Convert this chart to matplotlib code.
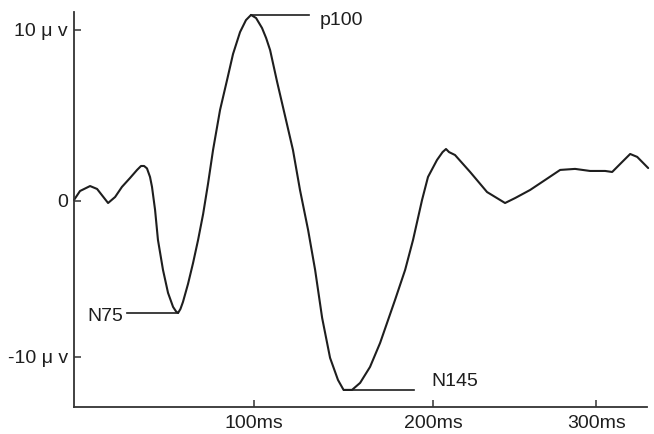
"""
Visual evoked potential waveform with N75 / p100 / N145 components marked.
"""
import matplotlib
matplotlib.use("Agg")
import matplotlib.pyplot as plt
import numpy as np

plt.rcParams["font.family"] = ["Liberation Sans", "DejaVu Sans"]

# waveform traced from the recording (ms, microvolts)
time_ms = [0.3, 3.6, 9.2, 13.1, 19.2, 23.1, 26.9, 31.4, 35.3, 37.5, 39.2, 40.8, 42.5,
           43.6, 45.3, 46.9, 49.7, 52.5, 55.3, 57.0, 58.1, 59.4, 60.8, 63.6, 66.4, 69.2,
           72.0, 74.7, 77.5, 81.4, 85.3, 88.6, 92.5, 95.8, 98.6, 101.4, 104.7,
           107.0, 109.2, 113.1, 117.5, 121.9, 125.8, 130.3, 134.2, 138.1, 142.5, 146.9,
           150.0, 154.7, 159.2, 164.7, 170.3, 178.6, 184.2, 188.6, 193.6, 196.9,
           201.9, 205.0, 206.9, 208.6, 211.9, 220.3, 229.7, 236.9, 239.7, 245.3, 253.6,
           261.9, 270.3, 278.6, 286.9, 295.3, 299.2, 304.7, 309.2, 313.1, 319.2]
amp_uv = [0.06, 0.58, 0.87, 0.70, -0.12, 0.23, 0.82, 1.34, 1.81, 2.04, 2.04, 1.90, 1.40,
          0.82, -0.52, -2.27, -4.02, -5.36, -6.18, -6.45, -6.53, -6.30, -5.89, -4.84, -3.62,
          -2.27, -0.76, 0.99, 2.97, 5.31, 7.06, 8.57, 9.85, 10.55, 10.85, 10.67, 10.09,
          9.50, 8.80, 6.94, 4.96, 2.97, 0.64, -1.69, -4.02, -6.82, -9.15, -10.44,
          -11.02, -11.02, -10.61, -9.68, -8.28, -5.77, -4.02, -2.27, 0.06, 1.40,
          2.39, 2.85, 3.03, 2.85, 2.68, 1.69, 0.52, 0.06, -0.12, 0.17, 0.64,
          1.22, 1.81, 1.87, 1.75, 1.75, 1.69, 2.27, 2.74, 2.57, 1.92]

# components: name, search window (ms), polarity, end of marker line, label anchor
comp_names = ["N75", "p100", "N145"]
comp_windows = [(50, 70), (90, 110), (140, 170)]
comp_sign = [-1, 1, -1]
comp_line_end = [29.7, 130.8, 189.2]
comp_label_x = [27.5, 137.0, 198.6]
comp_label_dy = [-0.2, -0.3, 0.5]

xtick_vals = [100.1, 199.9, 290.3]
xtick_labels = ["100ms", "200ms", "300ms"]
ytick_vals = [10.0, 0.0, -9.08]
ytick_labels = ["10 μ v", "0", "-10 μ v"]

INK = "#1e1e1e"

fig = plt.figure(figsize=(6.54, 4.34), dpi=100)
ax = fig.add_axes([0.1124, 0.0629, 0.8765, 0.9094])

t = np.array(time_ms)
v = np.array(amp_uv)
ax.plot(t, v, color=INK, linewidth=1.5, clip_on=False,
        solid_joinstyle="round", solid_capstyle="round")

for name, (lo, hi), sgn, x_end, x_lab, dy in zip(comp_names, comp_windows, comp_sign,
                                                 comp_line_end, comp_label_x, comp_label_dy):
    m = (t >= lo) & (t <= hi)
    idx = np.argmax(sgn * v[m])
    pt, pv = t[m][idx], v[m][idx]
    ax.plot([pt, x_end], [pv, pv], color=INK, linewidth=1.2)
    ha = "right" if x_end < pt else "left"
    ax.text(x_lab, pv + dy, name, ha=ha, va="center", fontsize=14, color=INK)

ax.set_xlim(0, 318.4)
ax.set_ylim(-12.0, 11.02)

ax.spines["top"].set_visible(False)
ax.spines["right"].set_visible(False)
for s in ("left", "bottom"):
    ax.spines[s].set_color("#333333")
    ax.spines[s].set_linewidth(1.3)

ax.set_xticks(xtick_vals)
ax.set_xticklabels(xtick_labels)
ax.set_yticks(ytick_vals)
ax.set_yticklabels(ytick_labels)
ax.tick_params(direction="in", length=5, width=1.1, color="#333333",
               labelsize=14, labelcolor=INK)
ax.tick_params(axis="y", pad=4)
ax.tick_params(axis="x", pad=6)

fig.savefig("out.png", dpi=100)
